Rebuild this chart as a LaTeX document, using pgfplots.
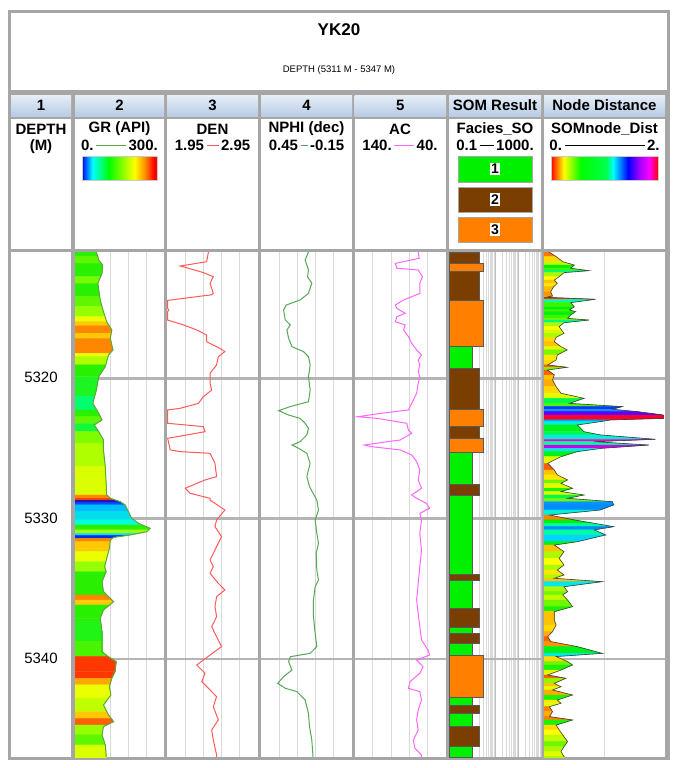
\documentclass[border=0pt]{standalone}
\usepackage{pgfplots}
\pgfplotsset{compat=1.18}
\usepackage{fontspec}
\setmainfont{Liberation Sans}

\definecolor{frame}{HTML}{A6A6A6}
\definecolor{lgrid}{HTML}{DADADA}
\definecolor{hgrid}{HTML}{B4B4B4}
\definecolor{denc}{HTML}{FF5A5A}
\definecolor{nphic}{HTML}{55A855}
\definecolor{acc}{HTML}{FF66FF}
\definecolor{grline}{HTML}{5BA83A}
\definecolor{facg}{HTML}{00F000}
\definecolor{facb}{HTML}{7A3E00}
\definecolor{faco}{HTML}{FF8000}
\definecolor{hdtop}{HTML}{E6EEF8}
\definecolor{hdbot}{HTML}{B8CCE4}

\pgfdeclarehorizontalshading{grbar}{100bp}{rgb(0bp)=(0,0,1); rgb(25bp)=(0,0,1); rgb(32bp)=(0,1,1); rgb(43bp)=(0,1,0); rgb(53bp)=(0.6,1,0); rgb(60bp)=(1,1,0); rgb(67bp)=(1,0.55,0); rgb(73bp)=(1,0,0); rgb(100bp)=(1,0,0)}
\pgfdeclarehorizontalshading{nodebar}{100bp}{rgb(0bp)=(1,0,0); rgb(25bp)=(1,0,0); rgb(31bp)=(1,1,0); rgb(39bp)=(0,1,0); rgb(51bp)=(0,1,0.3); rgb(54bp)=(0,1,1); rgb(61bp)=(0,0,1); rgb(66bp)=(0.6,0,1); rgb(71bp)=(1,0,1); rgb(75bp)=(1,0,0); rgb(100bp)=(1,0,0)}

\pgfplotsset{
  track/.style={
    scale only axis, height=505pt, anchor=south west,
    y dir=reverse, ymin=5311, ymax=5347,
    ytick=\empty, xticklabels={},
    axis line style={draw=none}, major tick length=0pt, minor tick length=0pt,
    axis background/.style={fill=white},
    xmajorgrids, grid style={draw=lgrid, line width=0.9pt},
    extra y ticks={5320,5330,5340}, extra y tick labels={},
    extra y tick style={grid=major, major grid style={draw=hgrid, line width=2.6pt}},
  },
}

% facies block: top, bottom, value, colour
\newcommand\fac[4]{\addplot[draw=black!65, line width=0.5pt, fill=#4] coordinates {(0.1,#1) (#3,#1) (#3,#2) (0.1,#2)} -- cycle;}

\newcommand\hd{\bfseries\fontsize{15}{17}\selectfont}

\begin{document}
\begin{tikzpicture}
\begin{scope}[x=1pt,y=-1pt]
\path (0,0) rectangle (678,768);
\fill[frame] (8,10) rectangle (670,760);
\fill[white] (11,13) rectangle (667,90);
\node[font=\bfseries\fontsize{17}{19}\selectfont] at (339,30) {YK20};
\node[font=\fontsize{9.5}{11}\selectfont] at (339,70) {DEPTH (5311 M - 5347 M)};
% column cells
\foreach \a/\b/\t in {11/71/1, 75/164/2, 167/258/3, 261/352/4, 354.5/446/5, 449/541/SOM Result, 544/665/Node Distance}{
  \shade[top color=hdtop, bottom color=hdbot] (\a,95) rectangle (\b,116);
  \node[font=\hd] at ({(\a+\b)/2},105.5) {\t};
  \fill[white] (\a,119) rectangle (\b,249);
}
\fill[white] (11,252) rectangle (71,757);
% header contents
\node[font=\hd] at (41,129) {DEPTH};
\node[font=\hd] at (41,147) {(M)};
\node[font=\hd] at (119.5,129) {GR (API)};
\node[font=\hd] at (119.5,145) {0.\,\textcolor{grline}{\rule[0.3em]{30pt}{0.8pt}}\,300.};
\shade[shading=grbar, draw=frame!60, line width=0.4pt] (82,156) rectangle (157,180);
\node[font=\hd] at (212.5,129) {DEN};
\node[font=\hd] at (212.5,145) {1.95\,\textcolor{denc}{\rule[0.3em]{12pt}{0.8pt}}\,2.95};
\node[font=\hd] at (306.5,129) {NPHI (dec)};
\node[font=\hd] at (306.5,145) {0.45\,\textcolor{nphic}{\rule[0.3em]{7pt}{0.8pt}}\,-0.15};
\node[font=\hd] at (400,129) {AC};
\node[font=\hd] at (400,145) {140.\,\textcolor{acc}{\rule[0.3em]{20pt}{0.8pt}}\,40.};
\node[font=\hd] at (495,129) {Facies\_SO};
\node[font=\hd] at (495,145) {0.1\,\rule[0.3em]{14pt}{0.8pt}\,1000.};
\foreach \c/\ya/\yb/\n in {facg/156/182/1, facb/187/212/2, faco/217/242/3}{
  \fill[\c, draw=frame, line width=0.6pt] (458,\ya) rectangle (532,\yb);
  \node[fill=white, inner sep=1.5pt, font=\bfseries\fontsize{14}{15}\selectfont] at (495,{(\ya+\yb)/2}) {\n};
}
\node[font=\hd] at (604.5,129) {SOMnode\_Dist};
\node[font=\hd] at (604.5,145) {0.\,\rule[0.3em]{80pt}{0.8pt}\,2.};
\shade[shading=nodebar, draw=frame!60, line width=0.4pt] (551,156) rectangle (658,180);
% depth labels
\node[font=\fontsize{15}{17}\selectfont] at (41,377) {5320};
\node[font=\fontsize{15}{17}\selectfont] at (41,518) {5330};
\node[font=\fontsize{15}{17}\selectfont] at (41,658) {5340};
\end{scope}

% ---------- GR ----------
\begin{axis}[track, at={(75pt,-757pt)}, width=89pt, xmin=0, xmax=300, xtick={60,120,180,240},
  colormap={grmap}{rgb255(0cm)=(0,0,200) rgb255(1cm)=(0,80,255) rgb255(2cm)=(0,190,255) rgb255(3cm)=(0,255,220) rgb255(4cm)=(0,255,110) rgb255(5cm)=(40,240,0) rgb255(6cm)=(150,255,0) rgb255(7cm)=(235,255,0) rgb255(8cm)=(255,200,0) rgb255(9cm)=(255,135,0) rgb255(10cm)=(255,55,0)},
  point meta min=0, point meta max=10]
\addplot[surf, shader=flat corner, mesh/cols=2, point meta=explicit] coordinates {
(0,5311.00)[5] (72,5311.00)[5]
(0,5311.33)[5.5] (77,5311.33)[5.5]
(0,5311.57)[5.5] (80,5311.57)[5.5]
(0,5311.81)[5] (89,5311.81)[5]
(0,5311.93)[5] (93,5311.93)[5]
(0,5312.52)[5] (91,5312.52)[5]
(0,5312.76)[5.7] (86,5312.76)[5.7]
(0,5313.23)[5] (77,5313.23)[5]
(0,5314.18)[5.5] (83,5314.18)[5.5]
(0,5314.42)[5.5] (85,5314.42)[5.5]
(0,5314.90)[6] (91,5314.90)[6]
(0,5315.13)[6] (94,5315.13)[6]
(0,5315.61)[7] (101,5315.61)[7]
(0,5315.97)[8] (107,5315.97)[8]
(0,5316.27)[9] (116,5316.27)[9]
(0,5316.56)[9] (124,5316.56)[9]
(0,5316.80)[8] (122,5316.80)[8]
(0,5317.15)[9] (119,5317.15)[9]
(0,5317.98)[9] (128,5317.98)[9]
(0,5318.22)[7] (118,5318.22)[7]
(0,5318.34)[7] (113,5318.34)[7]
(0,5318.46)[6.3] (111,5318.46)[6.3]
(0,5319.05)[5] (103,5319.05)[5]
(0,5319.17)[5] (102,5319.17)[5]
(0,5319.89)[4.7] (80,5319.89)[4.7]
(0,5320.84)[4.7] (72,5320.84)[4.7]
(0,5321.31)[4] (66,5321.31)[4]
(0,5321.79)[4] (60,5321.79)[4]
(0,5322.26)[5] (73,5322.26)[5]
(0,5322.50)[5] (80,5322.50)[5]
(0,5322.74)[5.5] (86,5322.74)[5.5]
(0,5322.97)[5.5] (91,5322.97)[5.5]
(0,5323.21)[4.5] (73,5323.21)[4.5]
(0,5323.33)[4.5] (65,5323.33)[4.5]
(0,5323.81)[5.8] (80,5323.81)[5.8]
(0,5324.40)[5.8] (96,5324.40)[5.8]
(0,5324.64)[6.3] (96,5324.64)[6.3]
(0,5325.11)[6.3] (96,5325.11)[6.3]
(0,5326.30)[6.8] (102,5326.30)[6.8]
(0,5327.49)[6.8] (105,5327.49)[6.8]
(0,5328.32)[9] (107,5328.32)[9]
(0,5328.56)[10] (119,5328.56)[10]
(0,5328.72)[0] (141,5328.72)[0]
(0,5328.80)[0] (152,5328.80)[0]
(0,5328.87)[1] (157,5328.87)[1]
(0,5329.03)[2] (169,5329.03)[2]
(0,5329.51)[2.5] (180,5329.51)[2.5]
(0,5329.98)[2.5] (191,5329.98)[2.5]
(0,5330.10)[3] (198,5330.10)[3]
(0,5330.34)[3] (214,5330.34)[3]
(0,5330.46)[5] (227,5330.46)[5]
(0,5330.70)[5] (253,5330.70)[5]
(0,5330.81)[6] (248,5330.81)[6]
(0,5330.94)[6] (242,5330.94)[6]
(0,5331.05)[2.5] (215,5331.05)[2.5]
(0,5331.17)[2.5] (186,5331.17)[2.5]
(0,5331.22)[0.5] (170,5331.22)[0.5]
(0,5331.34)[0.5] (130,5331.34)[0.5]
(0,5331.41)[9] (126,5331.41)[9]
(0,5331.53)[9] (119,5331.53)[9]
(0,5331.65)[8] (118,5331.65)[8]
(0,5332.12)[8] (116,5332.12)[8]
(0,5332.36)[7] (113,5332.36)[7]
(0,5332.83)[7] (107,5332.83)[7]
(0,5333.08)[6] (104,5333.08)[6]
(0,5333.43)[6] (100,5333.43)[6]
(0,5333.79)[5] (105,5333.79)[5]
(0,5334.50)[5] (91,5334.50)[5]
(0,5335.21)[5] (96,5335.21)[5]
(0,5335.45)[9] (107,5335.45)[9]
(0,5335.81)[8] (124,5335.81)[8]
(0,5335.93)[8] (130,5335.93)[8]
(0,5336.16)[5] (117,5336.16)[5]
(0,5336.52)[5] (96,5336.52)[5]
(0,5337.11)[5] (85,5337.11)[5]
(0,5337.35)[4.8] (87,5337.35)[4.8]
(0,5338.06)[4.8] (91,5338.06)[4.8]
(0,5338.77)[5.3] (91,5338.77)[5.3]
(0,5339.49)[5.3] (91,5339.49)[5.3]
(0,5339.84)[10] (112,5339.84)[10]
(0,5340.20)[10] (139,5340.20)[10]
(0,5340.92)[10] (135,5340.92)[10]
(0,5341.39)[8.5] (124,5341.39)[8.5]
(0,5341.86)[7] (118,5341.86)[7]
(0,5341.98)[7] (116,5341.98)[7]
(0,5342.58)[7] (121,5342.58)[7]
(0,5342.81)[6.5] (113,5342.81)[6.5]
(0,5343.29)[6.5] (96,5343.29)[6.5]
(0,5343.77)[8] (107,5343.77)[8]
(0,5344.00)[8] (113,5344.00)[8]
(0,5344.24)[9.5] (122,5344.24)[9.5]
(0,5344.48)[9.5] (130,5344.48)[9.5]
(0,5344.72)[6] (107,5344.72)[6]
(0,5344.83)[6] (96,5344.83)[6]
(0,5345.42)[5.5] (91,5345.42)[5.5]
(0,5346.14)[6.8] (102,5346.14)[6.8]
(0,5346.85)[6.8] (105,5346.85)[6.8]
(0,5347.00)[6.8] (105,5347.00)[6.8]
};
\addplot[grline, line width=1pt] coordinates {
(72,5311.00) (80,5311.57) (93,5311.93) (91,5312.52) (77,5313.23) (85,5314.42)
(94,5315.13) (107,5315.97) (124,5316.56) (119,5317.15) (128,5317.98) (113,5318.34)
(102,5319.17) (80,5319.89) (72,5320.84) (60,5321.79) (80,5322.50) (91,5322.97)
(65,5323.33) (80,5323.81) (96,5324.40) (96,5325.11) (102,5326.30) (105,5327.49)
(107,5328.32) (119,5328.56) (152,5328.80) (169,5329.03) (180,5329.51) (191,5329.98)
(214,5330.34) (253,5330.70) (242,5330.94) (186,5331.17) (130,5331.34) (119,5331.53)
(116,5332.12) (107,5332.83) (100,5333.43) (105,5333.79) (91,5334.50) (96,5335.21)
(130,5335.93) (96,5336.52) (85,5337.11) (91,5338.06) (91,5339.49) (112,5339.84)
(139,5340.20) (135,5340.92) (124,5341.39) (116,5341.98) (121,5342.58) (96,5343.29)
(113,5344.00) (130,5344.48) (96,5344.83) (91,5345.42) (102,5346.14) (105,5346.85)
(105,5347.00)
};
\end{axis}

% ---------- DEN ----------
\begin{axis}[track, at={(167pt,-757pt)}, width=91pt, xmin=1.95, xmax=2.95, xtick={2.15,2.35,2.55,2.75}]
\addplot[denc, line width=1pt] coordinates {
(2.405,5311.00) (2.386,5311.69) (2.095,5312.00) (2.150,5312.09) (2.350,5312.47)
(2.459,5312.76) (2.423,5313.23) (2.459,5313.95) (2.440,5314.05) (1.957,5314.45)
(1.957,5315.02) (1.970,5315.13) (1.957,5315.25) (1.957,5315.85) (2.132,5316.20)
(2.277,5316.56) (2.386,5316.92) (2.386,5317.39) (2.532,5317.87) (2.586,5318.10)
(2.514,5318.46) (2.495,5319.05) (2.423,5319.65) (2.423,5320.36) (2.441,5320.84)
(2.350,5321.31) (2.295,5321.79) (2.095,5322.14) (1.957,5322.26) (1.957,5323.21)
(2.350,5323.45) (2.368,5323.81) (2.168,5324.04) (1.957,5324.28) (1.986,5325.11)
(2.095,5325.23) (2.423,5325.35) (2.477,5326.06) (2.495,5327.01) (2.368,5327.25)
(2.150,5327.84) (2.205,5328.20) (2.423,5328.56) (2.423,5328.68) (2.586,5329.39)
(2.495,5330.10) (2.477,5330.58) (2.550,5331.29) (2.495,5332.00) (2.423,5332.95)
(2.459,5333.43) (2.423,5333.90) (2.514,5334.62) (2.586,5335.09) (2.495,5335.57)
(2.477,5336.28) (2.495,5336.99) (2.441,5337.71) (2.495,5338.42) (2.550,5339.13)
(2.423,5339.73) (2.277,5340.44) (2.368,5341.03) (2.332,5341.63) (2.423,5342.22)
(2.495,5342.70) (2.459,5343.41) (2.514,5344.36) (2.441,5345.07) (2.459,5345.79)
(2.495,5346.85) (2.495,5347.00)
};
\end{axis}

% ---------- NPHI ----------
\begin{axis}[track, at={(261pt,-757pt)}, width=91pt, xmin=-0.15, xmax=0.45, x dir=reverse, xtick={-0.03,0.09,0.21,0.33}]
\addplot[nphic, line width=1pt] coordinates {
(0.137,5311.00) (0.159,5311.57) (0.137,5312.28) (0.143,5312.76) (0.115,5313.23)
(0.137,5313.95) (0.192,5314.42) (0.284,5314.78) (0.301,5315.13) (0.290,5315.85)
(0.257,5316.20) (0.279,5316.56) (0.268,5317.15) (0.246,5317.75) (0.170,5318.10)
(0.137,5318.46) (0.126,5319.05) (0.137,5319.89) (0.126,5320.84) (0.137,5321.67)
(0.257,5322.02) (0.334,5322.31) (0.268,5322.62) (0.192,5322.86) (0.159,5323.21)
(0.137,5323.57) (0.148,5324.04) (0.192,5324.52) (0.246,5324.76) (0.203,5324.99)
(0.148,5325.35) (0.126,5326.06) (0.148,5327.01) (0.130,5327.73) (0.082,5328.68)
(0.071,5329.39) (0.093,5330.10) (0.082,5331.05) (0.071,5331.77) (0.086,5332.48)
(0.082,5333.67) (0.071,5334.38) (0.093,5334.86) (0.104,5335.81) (0.104,5336.99)
(0.093,5338.18) (0.082,5339.13) (0.126,5339.61) (0.257,5339.85) (0.268,5340.20)
(0.246,5340.80) (0.301,5341.27) (0.340,5341.75) (0.290,5342.10) (0.213,5342.34)
(0.159,5342.94) (0.137,5343.89) (0.130,5344.84) (0.115,5345.79) (0.108,5346.85)
(0.108,5347.00)
};
\end{axis}

% ---------- AC ----------
\begin{axis}[track, at={(354.5pt,-757pt)}, width=91.5pt, xmin=40, xmax=140, x dir=reverse, xtick={60,80,100,120}]
\addplot[acc, line width=1pt] coordinates {
(70.4,5311.00) (69.3,5311.45) (95.4,5311.81) (93.6,5312.16) (70.4,5312.28)
(65.7,5312.76) (68.6,5313.23) (68.6,5313.95) (86.4,5314.42) (95.4,5314.78)
(93.6,5315.02) (84.6,5315.37) (93.6,5315.61) (95.4,5315.97) (84.6,5316.20)
(86.4,5316.56) (81.1,5317.03) (77.5,5317.51) (72.1,5317.98) (66.8,5318.34)
(70.4,5318.70) (68.6,5319.05) (70.4,5319.53) (68.6,5319.89) (70.4,5320.36)
(72.1,5321.07) (77.5,5321.79) (81.1,5322.26) (111.4,5322.50) (136.4,5322.74)
(115.0,5322.86) (82.9,5323.21) (81.1,5323.69) (77.5,5323.92) (90.0,5324.40)
(111.4,5324.59) (129.3,5324.76) (122.1,5324.87) (90.0,5325.11) (77.5,5325.47)
(72.1,5325.94) (68.6,5326.54) (70.4,5327.25) (66.8,5327.84) (77.5,5328.32)
(72.1,5328.56) (61.5,5328.91) (57.9,5329.27) (68.6,5329.63) (66.8,5330.10)
(68.6,5331.05) (66.8,5332.24) (68.6,5333.43) (70.4,5334.62) (72.1,5335.81)
(70.4,5336.76) (68.6,5337.71) (66.8,5338.65) (59.7,5339.37) (57.9,5339.73)
(72.1,5340.08) (65.0,5340.56) (68.6,5341.03) (79.3,5341.63) (81.1,5342.10)
(68.6,5342.34) (66.8,5342.94) (70.4,5343.65) (72.1,5344.36) (70.4,5345.07)
(75.7,5345.79) (74.0,5346.38) (66.8,5346.85) (66.8,5347.00)
};
\end{axis}

% ---------- SOM facies ----------
\begin{axis}[track, at={(449pt,-757pt)}, width=92pt, xmode=log, xmin=0.1, xmax=1000,
  xtick={0.1,1,10,100,1000},
  minor xtick={0.2,0.3,0.4,0.5,0.6,0.7,0.8,0.9,2,3,4,5,6,7,8,9,20,30,40,50,60,70,80,90,200,300,400,500,600,700,800,900},
  xminorgrids, minor grid style={draw=lgrid, line width=0.6pt}, major grid style={draw=hgrid!85, line width=0.9pt}]
\fac{5311.00}{5311.80}{2}{facb}
\fac{5311.80}{5312.40}{3}{faco}
\fac{5312.40}{5314.47}{2}{facb}
\fac{5314.47}{5317.70}{3}{faco}
\fac{5317.70}{5319.30}{1}{facg}
\fac{5319.30}{5322.20}{2}{facb}
\fac{5322.20}{5323.40}{3}{faco}
\fac{5323.40}{5324.28}{2}{facb}
\fac{5324.28}{5325.30}{3}{faco}
\fac{5325.30}{5327.54}{1}{facg}
\fac{5327.54}{5328.37}{2}{facb}
\fac{5328.37}{5334.00}{1}{facg}
\fac{5334.00}{5334.40}{2}{facb}
\fac{5334.40}{5336.40}{1}{facg}
\fac{5336.40}{5337.78}{2}{facb}
\fac{5337.78}{5338.18}{1}{facg}
\fac{5338.18}{5338.90}{2}{facb}
\fac{5338.90}{5339.72}{1}{facg}
\fac{5339.72}{5342.77}{3}{faco}
\fac{5342.77}{5343.29}{1}{facg}
\fac{5343.29}{5343.88}{2}{facb}
\fac{5343.88}{5344.78}{1}{facg}
\fac{5344.78}{5346.26}{2}{facb}
\fac{5346.26}{5347.00}{1}{facg}
\end{axis}

% ---------- Node distance ----------
\begin{axis}[track, at={(544pt,-757pt)}, width=121pt, xmin=0, xmax=2, xtick={1},
  colormap={nodemap}{rgb255(0pt)=(255,30,0) rgb255(2pt)=(255,140,0) rgb255(5pt)=(255,255,0) rgb255(10pt)=(0,240,0) rgb255(17pt)=(0,255,170) rgb255(20pt)=(0,225,255) rgb255(24pt)=(0,110,255) rgb255(28pt)=(0,0,255) rgb255(33pt)=(170,0,255) rgb255(37pt)=(255,0,200) rgb255(40pt)=(255,0,0)},
  point meta min=0, point meta max=2]
\addplot[surf, shader=flat corner, mesh/cols=2, point meta=explicit] coordinates {
(0,5311.00)[0.08] (0.08,5311.00)[0.08]
(0,5311.33)[0.20] (0.20,5311.33)[0.20]
(0,5311.69)[0.31] (0.31,5311.69)[0.31]
(0,5311.93)[0.50] (0.50,5311.93)[0.50]
(0,5312.16)[0.44] (0.44,5312.16)[0.44]
(0,5312.33)[0.74] (0.74,5312.33)[0.74]
(0,5312.47)[0.33] (0.33,5312.47)[0.33]
(0,5312.76)[0.25] (0.25,5312.76)[0.25]
(0,5313.00)[0.17] (0.17,5313.00)[0.17]
(0,5313.23)[0.22] (0.22,5313.23)[0.22]
(0,5313.47)[0.16] (0.16,5313.47)[0.16]
(0,5313.83)[0.11] (0.11,5313.83)[0.11]
(0,5314.14)[0.14] (0.14,5314.14)[0.14]
(0,5314.23)[0.02] (0.02,5314.23)[0.02]
(0,5314.37)[0.85] (0.85,5314.37)[0.85]
(0,5314.61)[0.44] (0.44,5314.61)[0.44]
(0,5314.90)[0.50] (0.50,5314.90)[0.50]
(0,5315.13)[0.42] (0.42,5315.13)[0.42]
(0,5315.25)[0.52] (0.52,5315.25)[0.52]
(0,5315.49)[0.44] (0.44,5315.49)[0.44]
(0,5315.73)[0.39] (0.39,5315.73)[0.39]
(0,5315.85)[0.74] (0.74,5315.85)[0.74]
(0,5316.04)[0.33] (0.33,5316.04)[0.33]
(0,5316.32)[0.25] (0.25,5316.32)[0.25]
(0,5316.56)[0.29] (0.29,5316.56)[0.29]
(0,5316.80)[0.33] (0.33,5316.80)[0.33]
(0,5317.08)[0.20] (0.20,5317.08)[0.20]
(0,5317.39)[0.17] (0.17,5317.39)[0.17]
(0,5317.75)[0.28] (0.28,5317.75)[0.28]
(0,5317.98)[0.38] (0.38,5317.98)[0.38]
(0,5318.34)[0.22] (0.22,5318.34)[0.22]
(0,5318.70)[0.20] (0.20,5318.70)[0.20]
(0,5319.05)[0.06] (0.06,5319.05)[0.06]
(0,5319.22)[0.38] (0.38,5319.22)[0.38]
(0,5319.41)[0.06] (0.06,5319.41)[0.06]
(0,5319.77)[0.17] (0.17,5319.77)[0.17]
(0,5320.12)[0.14] (0.14,5320.12)[0.14]
(0,5320.60)[0.20] (0.20,5320.60)[0.20]
(0,5321.07)[0.28] (0.28,5321.07)[0.28]
(0,5321.43)[0.66] (0.66,5321.43)[0.66]
(0,5321.79)[0.42] (0.42,5321.79)[0.42]
(0,5322.02)[1.29] (1.29,5322.02)[1.29]
(0,5322.21)[1.13] (1.13,5322.21)[1.13]
(0,5322.38)[1.54] (1.54,5322.38)[1.54]
(0,5322.62)[1.97] (1.97,5322.62)[1.97]
(0,5322.86)[1.97] (1.97,5322.86)[1.97]
(0,5322.97)[1.10] (1.10,5322.97)[1.10]
(0,5323.09)[0.93] (0.93,5323.09)[0.93]
(0,5323.33)[0.55] (0.55,5323.33)[0.55]
(0,5323.81)[0.66] (0.66,5323.81)[0.66]
(0,5324.04)[0.93] (0.93,5324.04)[0.93]
(0,5324.35)[1.84] (1.84,5324.35)[1.84]
(0,5324.52)[0.83] (0.83,5324.52)[0.83]
(0,5324.76)[1.73] (1.73,5324.76)[1.73]
(0,5324.99)[0.96] (0.96,5324.99)[0.96]
(0,5325.23)[0.55] (0.55,5325.23)[0.55]
(0,5325.59)[0.28] (0.28,5325.59)[0.28]
(0,5326.06)[0.06] (0.06,5326.06)[0.06]
(0,5326.54)[0.17] (0.17,5326.54)[0.17]
(0,5326.89)[0.22] (0.22,5326.89)[0.22]
(0,5327.25)[0.39] (0.39,5327.25)[0.39]
(0,5327.49)[0.28] (0.28,5327.49)[0.28]
(0,5327.84)[0.47] (0.47,5327.84)[0.47]
(0,5328.08)[0.28] (0.28,5328.08)[0.28]
(0,5328.32)[0.66] (0.66,5328.32)[0.66]
(0,5328.56)[0.39] (0.39,5328.56)[0.39]
(0,5328.80)[1.13] (1.13,5328.80)[1.13]
(0,5329.03)[1.15] (1.15,5329.03)[1.15]
(0,5329.39)[0.93] (0.93,5329.39)[0.93]
(0,5329.75)[0.09] (0.09,5329.75)[0.09]
(0,5330.10)[0.50] (0.50,5330.10)[0.50]
(0,5330.34)[0.83] (0.83,5330.34)[0.83]
(0,5330.58)[1.15] (1.15,5330.58)[1.15]
(0,5330.81)[0.83] (0.83,5330.81)[0.83]
(0,5331.17)[1.02] (1.02,5331.17)[1.02]
(0,5331.65)[0.55] (0.55,5331.65)[0.55]
(0,5331.89)[0.17] (0.17,5331.89)[0.17]
(0,5332.36)[0.33] (0.33,5332.36)[0.33]
(0,5332.84)[0.25] (0.25,5332.84)[0.25]
(0,5333.31)[0.33] (0.33,5333.31)[0.33]
(0,5333.67)[0.22] (0.22,5333.67)[0.22]
(0,5334.02)[0.33] (0.33,5334.02)[0.33]
(0,5334.26)[0.17] (0.17,5334.26)[0.17]
(0,5334.50)[0.96] (0.96,5334.50)[0.96]
(0,5334.86)[0.33] (0.33,5334.86)[0.33]
(0,5335.21)[0.39] (0.39,5335.21)[0.39]
(0,5335.45)[0.31] (0.31,5335.45)[0.31]
(0,5335.81)[0.39] (0.39,5335.81)[0.39]
(0,5336.28)[0.47] (0.47,5336.28)[0.47]
(0,5336.64)[0.17] (0.17,5336.64)[0.17]
(0,5337.23)[0.17] (0.17,5337.23)[0.17]
(0,5337.59)[0.20] (0.20,5337.59)[0.20]
(0,5338.06)[0.14] (0.14,5338.06)[0.14]
(0,5338.42)[0.06] (0.06,5338.42)[0.06]
(0,5338.77)[0.11] (0.11,5338.77)[0.11]
(0,5339.13)[0.55] (0.55,5339.13)[0.55]
(0,5339.61)[0.96] (0.96,5339.61)[0.96]
(0,5339.84)[0.20] (0.20,5339.84)[0.20]
(0,5340.20)[0.39] (0.39,5340.20)[0.39]
(0,5340.44)[0.47] (0.47,5340.44)[0.47]
(0,5340.80)[0.28] (0.28,5340.80)[0.28]
(0,5341.15)[0.06] (0.06,5341.15)[0.06]
(0,5341.39)[0.36] (0.36,5341.39)[0.36]
(0,5341.75)[0.17] (0.17,5341.75)[0.17]
(0,5341.99)[0.28] (0.28,5341.99)[0.28]
(0,5342.22)[0.14] (0.14,5342.22)[0.14]
(0,5342.58)[0.47] (0.47,5342.58)[0.47]
(0,5342.94)[0.22] (0.22,5342.94)[0.22]
(0,5343.17)[0.28] (0.28,5343.17)[0.28]
(0,5343.41)[0.09] (0.09,5343.41)[0.09]
(0,5343.77)[0.14] (0.14,5343.77)[0.14]
(0,5344.12)[0.09] (0.09,5344.12)[0.09]
(0,5344.36)[0.47] (0.47,5344.36)[0.47]
(0,5344.72)[0.20] (0.20,5344.72)[0.20]
(0,5345.07)[0.25] (0.25,5345.07)[0.25]
(0,5345.43)[0.31] (0.31,5345.43)[0.31]
(0,5345.90)[0.39] (0.39,5345.90)[0.39]
(0,5346.26)[0.33] (0.33,5346.26)[0.33]
(0,5346.61)[0.28] (0.28,5346.61)[0.28]
(0,5346.97)[0.33] (0.33,5346.97)[0.33]
(0,5347.00)[0.33] (0.33,5347.00)[0.33]
};
\addplot[black!75, line width=0.6pt] coordinates {
(0.08,5311.00) (0.20,5311.33) (0.31,5311.69) (0.50,5311.93) (0.44,5312.16) (0.74,5312.33)
(0.33,5312.47) (0.25,5312.76) (0.17,5313.00) (0.22,5313.23) (0.16,5313.47) (0.11,5313.83)
(0.14,5314.14) (0.02,5314.23) (0.85,5314.37) (0.44,5314.61) (0.50,5314.90) (0.42,5315.13)
(0.52,5315.25) (0.44,5315.49) (0.39,5315.73) (0.74,5315.85) (0.33,5316.04) (0.25,5316.32)
(0.29,5316.56) (0.33,5316.80) (0.20,5317.08) (0.17,5317.39) (0.28,5317.75) (0.38,5317.98)
(0.22,5318.34) (0.20,5318.70) (0.06,5319.05) (0.38,5319.22) (0.06,5319.41) (0.17,5319.77)
(0.14,5320.12) (0.20,5320.60) (0.28,5321.07) (0.66,5321.43) (0.42,5321.79) (1.29,5322.02)
(1.13,5322.21) (1.54,5322.38) (1.97,5322.62) (1.97,5322.86) (1.10,5322.97) (0.93,5323.09)
(0.55,5323.33) (0.66,5323.81) (0.93,5324.04) (1.84,5324.35) (0.83,5324.52) (1.73,5324.76)
(0.96,5324.99) (0.55,5325.23) (0.28,5325.59) (0.06,5326.06) (0.17,5326.54) (0.22,5326.89)
(0.39,5327.25) (0.28,5327.49) (0.47,5327.84) (0.28,5328.08) (0.66,5328.32) (0.39,5328.56)
(1.13,5328.80) (1.15,5329.03) (0.93,5329.39) (0.09,5329.75) (0.50,5330.10) (0.83,5330.34)
(1.15,5330.58) (0.83,5330.81) (1.02,5331.17) (0.55,5331.65) (0.17,5331.89) (0.33,5332.36)
(0.25,5332.84) (0.33,5333.31) (0.22,5333.67) (0.33,5334.02) (0.17,5334.26) (0.96,5334.50)
(0.33,5334.86) (0.39,5335.21) (0.31,5335.45) (0.39,5335.81) (0.47,5336.28) (0.17,5336.64)
(0.17,5337.23) (0.20,5337.59) (0.14,5338.06) (0.06,5338.42) (0.11,5338.77) (0.55,5339.13)
(0.96,5339.61) (0.20,5339.84) (0.39,5340.20) (0.47,5340.44) (0.28,5340.80) (0.06,5341.15)
(0.36,5341.39) (0.17,5341.75) (0.28,5341.99) (0.14,5342.22) (0.47,5342.58) (0.22,5342.94)
(0.28,5343.17) (0.09,5343.41) (0.14,5343.77) (0.09,5344.12) (0.47,5344.36) (0.20,5344.72)
(0.25,5345.07) (0.31,5345.43) (0.39,5345.90) (0.33,5346.26) (0.28,5346.61) (0.33,5346.97)
(0.33,5347.00)
};
\end{axis}
\end{tikzpicture}
\end{document}
